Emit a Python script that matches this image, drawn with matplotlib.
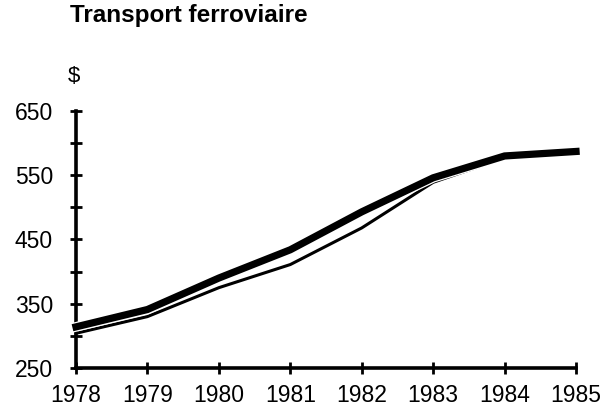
import matplotlib
matplotlib.use("Agg")
import matplotlib.pyplot as plt
import matplotlib.patheffects as pe

plt.rcParams['font.family'] = ['Liberation Sans', 'DejaVu Sans']

years = [1978, 1979, 1980, 1981, 1982, 1983, 1984, 1985]
thick_series = [314, 341, 390, 434, 493, 546, 580, 587]
thin_series = [304, 330, 375, 411, 468, 539, 577, 586]
y_ticks = [250, 300, 350, 400, 450, 500, 550, 600, 650]
y_tick_labels = ["250", "", "350", "", "450", "", "550", "", "650"]
title = "Transport ferroviaire"
unit = "$"

fig = plt.figure(figsize=(6.07, 4.16), dpi=100)
ax = fig.add_axes([0.1252, 0.1154, 0.8238, 0.6178])

ax.plot(years, thin_series, color='black', lw=2.2, clip_on=False, zorder=3,
        solid_joinstyle='miter')
ax.plot(years, thick_series, color='black', lw=5.2, clip_on=False, zorder=4,
        solid_joinstyle='miter',
        path_effects=[pe.Stroke(linewidth=7.0, foreground='white'), pe.Normal()])

ax.set_xlim(1978, 1985)
ax.set_ylim(250, 650)
ax.set_xticks(years)
ax.set_xticklabels([str(y) for y in years])
ax.set_yticks(y_ticks)
ax.set_yticklabels(y_tick_labels)

for s in ['top', 'right']:
    ax.spines[s].set_visible(False)
for s in ['left', 'bottom']:
    ax.spines[s].set_linewidth(2.6)
    ax.spines[s].set_capstyle('projecting')

ax.tick_params(axis='both', direction='inout', length=9, width=2.0,
               labelsize=16.5, color='black')
ax.tick_params(axis='y', pad=12)
ax.tick_params(axis='x', pad=7)

fig.text(70 / 607, 1 - 22 / 416, title, fontsize=17.5, fontweight='bold',
         ha='left', va='baseline')
fig.text(68 / 607, 1 - 82 / 416, unit, fontsize=16, ha='left', va='baseline')

fig.savefig("out.png", dpi=100)
